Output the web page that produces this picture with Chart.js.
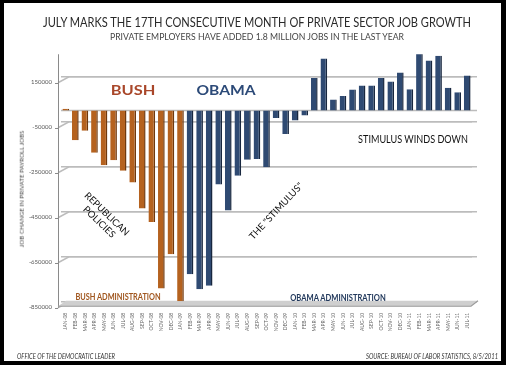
<!DOCTYPE html>
<html>
<head>
<meta charset="utf-8">
<script src="https://cdn.jsdelivr.net/npm/chart.js@4/dist/chart.umd.min.js"></script>
<style>
  html, body { margin:0; padding:0; background:#000; }
  #page { position:absolute; left:0; top:0; width:506px; height:365px; overflow:hidden; }
  #paper { position:absolute; left:4px; top:3px; width:497px; height:358px; background:#fff; }
  canvas { position:absolute; left:0; top:0; }
  .t { position:absolute; white-space:nowrap; font-family:Lato, 'Open Sans', sans-serif; line-height:1; }
</style>
</head>
<body>
<div id="page">
  <div id="paper"></div>
  <canvas id="jobsChart" width="506" height="365"></canvas>

  <div class="t" data-x="257" data-y="23" data-w="428" style="font-size:12.5px;color:#2a2a2a">JULY MARKS THE 17TH CONSECUTIVE MONTH OF PRIVATE SECTOR JOB GROWTH</div>
  <div class="t" data-x="257" data-y="36.5" data-w="294" style="font-size:9.3px;color:#454545">PRIVATE EMPLOYERS HAVE ADDED 1.8 MILLION JOBS IN THE LAST YEAR</div>

  <div class="t" data-x="132.5" data-y="91" data-w="45" style="font-size:13.5px;font-weight:bold;color:#a9472a">BUSH</div>
  <div class="t" data-x="225.5" data-y="91" data-w="59" style="font-size:13.5px;font-weight:bold;color:#2c4a78">OBAMA</div>

  <div class="t" data-x="102.7" data-y="218.3" data-w="58" data-r="44" style="font-size:9.5px;line-height:11.4px;text-align:center;color:#111">REPUBLICAN<br>POLICIES</div>
  <div class="t" data-x="276" data-y="210.5" data-w="74" data-r="-47" style="font-size:9.5px;color:#111">THE "STIMULUS"</div>
  <div class="t" data-x="412.5" data-y="139.3" data-w="110" style="font-size:10.5px;color:#111">STIMULUS WINDS DOWN</div>

  <div class="t" data-x="117.5" data-y="296" data-w="85" style="font-size:9px;font-weight:bold;color:#a0561e">BUSH ADMINISTRATION</div>
  <div class="t" data-x="338" data-y="296.5" data-w="96" style="font-size:9px;font-weight:bold;color:#22395c">OBAMA ADMINISTRATION</div>

  <div class="t" data-x="21.7" data-y="188.5" data-w="117" data-r="-90" style="font-size:6.5px;color:#444">JOB CHANGE IN PRIVATE PAYROLL JOBS</div>

  <div class="t" data-x="66" data-y="355.7" data-w="98" style="font-size:7px;font-style:italic;color:#333">OFFICE OF THE DEMOCRATIC LEADER</div>
  <div class="t" data-x="431.5" data-y="355.7" data-w="132" style="font-size:7px;font-style:italic;color:#333">SOURCE: BUREAU OF LABOR STATISTICS, 8/5/2011</div>
</div>

<script>
// months on the x axis
const months = [
  'JAN-08','FEB-08','MAR-08','APR-08','MAY-08','JUN-08','JUL-08','AUG-08','SEP-08','OCT-08','NOV-08','DEC-08',
  'JAN-09','FEB-09','MAR-09','APR-09','MAY-09','JUN-09','JUL-09','AUG-09','SEP-09','OCT-09','NOV-09','DEC-09',
  'JAN-10','FEB-10','MAR-10','APR-10','MAY-10','JUN-10','JUL-10','AUG-10','SEP-10','OCT-10','NOV-10','DEC-10',
  'JAN-11','FEB-11','MAR-11','APR-11','MAY-11','JUN-11','JUL-11'
]
// JAN-08 .. JAN-09
const bushJobs = [8000,-132000,-90000,-188000,-243000,-221000,-268000,-320000,-436000,-495000,-791000,-639000,-848000]
// FEB-09 .. JUL-11
const obamaJobs = [-728000,-794000,-779000,-329000,-444000,-290000,-219000,-216000,-252000,-33000,-104000,-44000,-22000,
  145000,231000,49000,65000,93000,111000,111000,144000,129000,169000,95000,264000,222000,243000,101000,81000,156000]
const yTicks = [150000,-50000,-250000,-450000,-650000,-850000]

const bushData = bushJobs.concat(obamaJobs.map(() => null))
const obamaData = bushJobs.map(() => null).concat(obamaJobs)

const LABEL_DROP = 5   // tick labels sit on the front plane, grid on the back wall
const GRID = '#bcbcbc'

// 3D-ish decoration: axis line, slanted grid stubs, zero line, floor slab
const deco = {
  id: 'deco',
  beforeDatasetsDraw(chart){
    const {ctx, chartArea: a, scales:{y}} = chart
    const ax = a.left - 3
    const yb = y.getPixelForValue(-850000)
    ctx.save()
    ctx.strokeStyle = GRID; ctx.lineWidth = 1.5
    // zero line
    const y0 = y.getPixelForValue(0)
    ctx.beginPath(); ctx.moveTo(a.left, y0); ctx.lineTo(a.right + 5, y0); ctx.stroke()
    // slanted stubs
    yTicks.forEach(v => {
      const py = y.getPixelForValue(v)
      ctx.beginPath(); ctx.moveTo(ax, py + LABEL_DROP + 1); ctx.lineTo(a.left + 8, py); ctx.lineTo(a.right + 5, py); ctx.stroke()
    })
    // axis line + tick marks
    ctx.strokeStyle = '#8a8a8a'; ctx.lineWidth = 1
    ctx.beginPath(); ctx.moveTo(ax + 0.5, a.top); ctx.lineTo(ax + 0.5, yb + LABEL_DROP + 1); ctx.stroke()
    yTicks.forEach(v => {
      const py = Math.round(y.getPixelForValue(v) + LABEL_DROP + 1) + 0.5
      ctx.beginPath(); ctx.moveTo(ax - 3, py); ctx.lineTo(ax, py); ctx.stroke()
    })
    // floor slab
    const top = yb - 1, bot = yb + 4.5
    ctx.fillStyle = '#cfcfcf'
    ctx.beginPath()
    ctx.moveTo(a.left + 5, top); ctx.lineTo(a.right + 6, top)
    ctx.lineTo(a.right - 1, bot); ctx.lineTo(ax, bot); ctx.closePath(); ctx.fill()
    ctx.strokeStyle = '#9c9c9c'; ctx.lineWidth = 1.2
    ctx.beginPath(); ctx.moveTo(ax, bot); ctx.lineTo(a.right - 1, bot); ctx.lineTo(a.right + 6, top); ctx.stroke()
    ctx.restore()
  }
}

new Chart(document.getElementById('jobsChart'), {
  type: 'bar',
  data: {
    labels: months,
    datasets: [
      { label:'Bush', data: bushData, backgroundColor:'#b5621f', borderColor:'#70380c',
        borderWidth:{top:0,left:0,bottom:0,right:1.5}, grouped:false },
      { label:'Obama', data: obamaData, backgroundColor:'#2f4a72', borderColor:'#18273f',
        borderWidth:{top:0,left:0,bottom:0,right:1.5}, grouped:false }
    ]
  },
  options: {
    responsive:false, animation:false,
    layout:{ padding:{ left:0, top:54.25, right:34, bottom:0 } },
    datasets:{ bar:{ barPercentage:0.7, categoryPercentage:1 } },
    plugins:{ legend:{display:false}, tooltip:{enabled:false} },
    scales:{
      x:{
        offset:true,
        grid:{ display:false, drawTicks:false },
        border:{ display:false },
        ticks:{ autoSkip:false, minRotation:90, maxRotation:90, padding:11, color:'#666',
          font:{ family:'Lato, sans-serif', size:5 } },
        afterFit: s => { s.height = 63.25 }
      },
      y:{
        min:-850000, max:250000,
        afterBuildTicks: s => { s.ticks = yTicks.map(value => ({value})) },
        grid:{ color:GRID, lineWidth:1.5, drawTicks:false },
        border:{ display:false },
        ticks:{ padding:9, labelOffset:LABEL_DROP, color:'#555', font:{ family:'Lato, sans-serif', size:6 },
          callback: v => String(v) },
        afterFit: s => { s.width = 61 }
      }
    }
  },
  plugins:[deco]
})

// place overlay texts: centre at (x,y), squeeze to the measured width of the original
document.querySelectorAll('.t').forEach(el => {
  const x = +el.dataset.x, y = +el.dataset.y, w = +el.dataset.w, r = +(el.dataset.r || 0)
  const sx = w / el.offsetWidth
  el.style.left = x + 'px'; el.style.top = y + 'px'
  el.style.transform = `translate(-50%,-50%) rotate(${r}deg) scaleX(${sx})`
})
</script>
</body>
</html>
